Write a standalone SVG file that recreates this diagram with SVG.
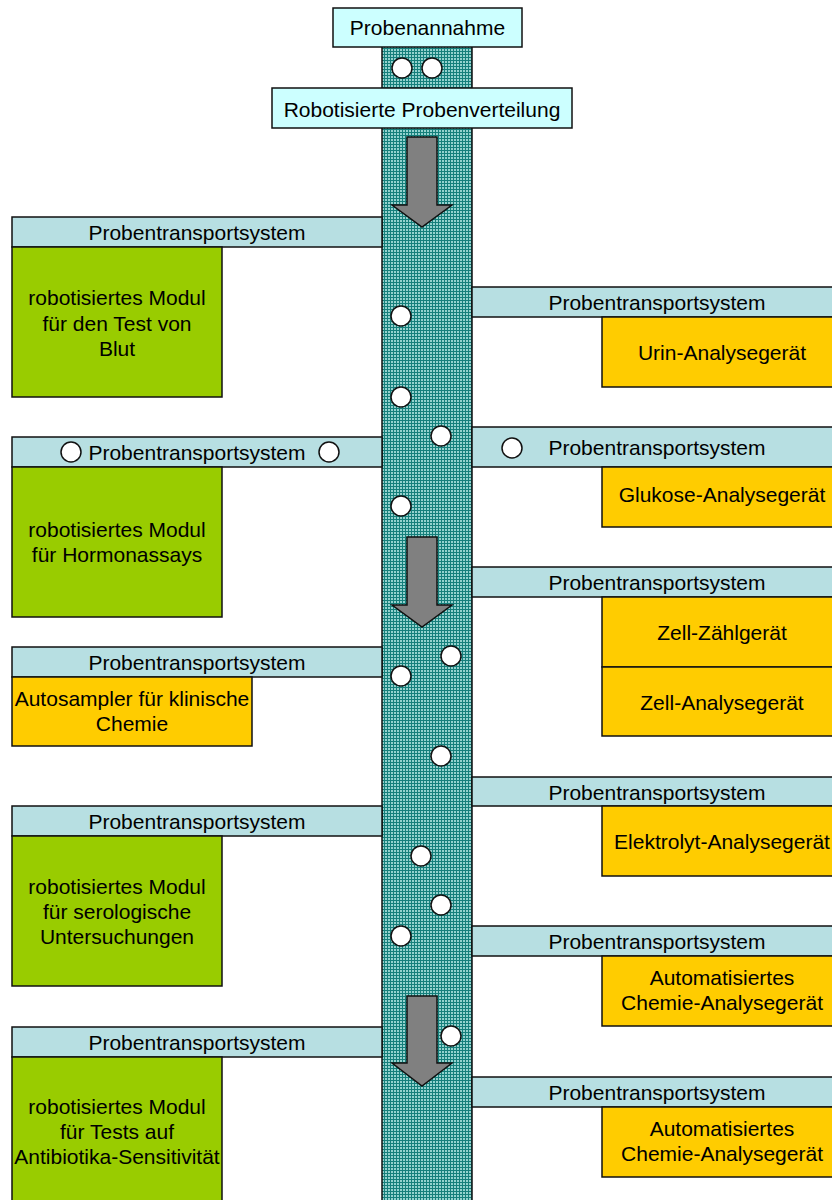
<svg xmlns="http://www.w3.org/2000/svg" width="832" height="1200" viewBox="0 0 832 1200">
  <defs>
    <pattern id="dots" width="3" height="3" patternUnits="userSpaceOnUse">
      <rect width="3" height="3" fill="#157f7b"/>
      <rect x="1" y="1" width="2" height="2" fill="#93d2ce"/>
    </pattern>
    <style>
      text { font-family: "Liberation Sans", Arial, sans-serif; font-size: 21px; fill: #000; text-anchor: middle; }
      .head { fill: #ccffff; stroke: #111; stroke-width: 1.5; }
      .bar { fill: #b7dfe2; stroke: #111; stroke-width: 1.5; }
      .green { fill: #99cc00; stroke: #111; stroke-width: 1.5; }
      .orange { fill: #ffcc00; stroke: #111; stroke-width: 1.5; }
      .sample { fill: #fff; stroke: #111; stroke-width: 1.5; }
      .arrow { fill: #808080; stroke: #111; stroke-width: 1.5; stroke-linejoin: miter; }
    </style>
  </defs>

  <rect width="832" height="1200" fill="#fff"/>

  <!-- central conveyor belt -->
  <g id="conveyor">
    <rect x="382" y="46" width="90" height="1160" fill="url(#dots)" stroke="#111" stroke-width="1.5"/>
  </g>

  <!-- top stations -->
  <g id="probenannahme">
    <rect class="head" x="333" y="8" width="189" height="39"/>
    <text x="427.5" y="35">Probenannahme</text>
  </g>
  <g id="probenverteilung">
    <rect class="head" x="272" y="88" width="300" height="40"/>
    <text x="422" y="117">Robotisierte Probenverteilung</text>
  </g>

  <!-- left side modules -->
  <g id="links-blut">
    <rect class="bar" x="12" y="217" width="370" height="30"/>
    <text x="197" y="240">Probentransportsystem</text>
    <rect class="green" x="12" y="247" width="210" height="150"/>
    <text x="117" y="305">robotisiertes Modul</text>
    <text x="117" y="331">für den Test von</text>
    <text x="117" y="356">Blut</text>
  </g>
  <g id="links-hormon">
    <rect class="bar" x="12" y="437" width="370" height="30"/>
    <text x="197" y="460">Probentransportsystem</text>
    <circle class="sample" cx="71" cy="452" r="10"/>
    <circle class="sample" cx="329" cy="452" r="10"/>
    <rect class="green" x="12" y="467" width="210" height="150"/>
    <text x="117" y="537">robotisiertes Modul</text>
    <text x="117" y="562">für Hormonassays</text>
  </g>
  <g id="links-autosampler">
    <rect class="bar" x="12" y="647" width="370" height="30"/>
    <text x="197" y="670">Probentransportsystem</text>
    <rect class="orange" x="12" y="677" width="240" height="69"/>
    <text x="132" y="706">Autosampler für klinische</text>
    <text x="132" y="731">Chemie</text>
  </g>
  <g id="links-serologie">
    <rect class="bar" x="12" y="806" width="370" height="30"/>
    <text x="197" y="829">Probentransportsystem</text>
    <rect class="green" x="12" y="836" width="210" height="150"/>
    <text x="117" y="894">robotisiertes Modul</text>
    <text x="117" y="919">für serologische</text>
    <text x="117" y="944">Untersuchungen</text>
  </g>
  <g id="links-antibiotika">
    <rect class="bar" x="12" y="1027" width="370" height="30"/>
    <text x="197" y="1050">Probentransportsystem</text>
    <rect class="green" x="12" y="1057" width="210" height="150"/>
    <text x="117" y="1114">robotisiertes Modul</text>
    <text x="117" y="1139">für Tests auf</text>
    <text x="117" y="1164">Antibiotika-Sensitivität</text>
  </g>

  <!-- right side analysers -->
  <g id="rechts-urin">
    <rect class="bar" x="472" y="287" width="370" height="30"/>
    <text x="657" y="310">Probentransportsystem</text>
    <rect class="orange" x="602" y="317" width="240" height="70"/>
    <text x="722" y="360">Urin-Analysegerät</text>
  </g>
  <g id="rechts-glukose">
    <rect class="bar" x="472" y="427" width="370" height="40"/>
    <text x="657" y="455">Probentransportsystem</text>
    <circle class="sample" cx="512" cy="448" r="10"/>
    <rect class="orange" x="602" y="467" width="240" height="60"/>
    <text x="722" y="502">Glukose-Analysegerät</text>
  </g>
  <g id="rechts-zell">
    <rect class="bar" x="472" y="567" width="370" height="30"/>
    <text x="657" y="590">Probentransportsystem</text>
    <rect class="orange" x="602" y="597" width="240" height="70"/>
    <text x="722" y="640">Zell-Zählgerät</text>
    <rect class="orange" x="602" y="667" width="240" height="69"/>
    <text x="722" y="710">Zell-Analysegerät</text>
  </g>
  <g id="rechts-elektrolyt">
    <rect class="bar" x="472" y="777" width="370" height="29"/>
    <text x="657" y="800">Probentransportsystem</text>
    <rect class="orange" x="602" y="806" width="240" height="70"/>
    <text x="722" y="849">Elektrolyt-Analysegerät</text>
  </g>
  <g id="rechts-chemie-1">
    <rect class="bar" x="472" y="926" width="370" height="30"/>
    <text x="657" y="949">Probentransportsystem</text>
    <rect class="orange" x="602" y="956" width="240" height="70"/>
    <text x="722" y="985">Automatisiertes</text>
    <text x="722" y="1010">Chemie-Analysegerät</text>
  </g>
  <g id="rechts-chemie-2">
    <rect class="bar" x="472" y="1077" width="370" height="30"/>
    <text x="657" y="1100">Probentransportsystem</text>
    <rect class="orange" x="602" y="1107" width="240" height="70"/>
    <text x="722" y="1136">Automatisiertes</text>
    <text x="722" y="1161">Chemie-Analysegerät</text>
  </g>

  <!-- samples travelling on the belt -->
  <g id="proben">
    <circle class="sample" cx="402" cy="68" r="10"/>
    <circle class="sample" cx="432" cy="68" r="10"/>
    <circle class="sample" cx="401" cy="316" r="10"/>
    <circle class="sample" cx="401" cy="397" r="10"/>
    <circle class="sample" cx="441" cy="436" r="10"/>
    <circle class="sample" cx="401" cy="506" r="10"/>
    <circle class="sample" cx="451" cy="656" r="10"/>
    <circle class="sample" cx="401" cy="676" r="10"/>
    <circle class="sample" cx="441" cy="756" r="10"/>
    <circle class="sample" cx="421" cy="856" r="10"/>
    <circle class="sample" cx="441" cy="905" r="10"/>
    <circle class="sample" cx="401" cy="936" r="10"/>
    <circle class="sample" cx="451" cy="1036" r="10"/>
  </g>

  <!-- flow direction arrows -->
  <g id="flow">
    <polygon class="arrow" points="407,137 437,137 437,205 452,205 422,227 392,205 407,205"/>
    <polygon class="arrow" points="407,537 437,537 437,605 452,605 422,627 392,605 407,605"/>
    <polygon class="arrow" points="407,996 437,996 437,1063 452,1063 422,1086 392,1063 407,1063"/>
  </g>
</svg>
